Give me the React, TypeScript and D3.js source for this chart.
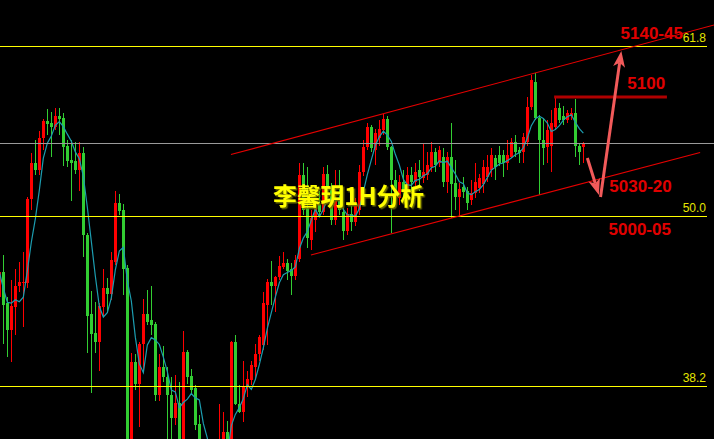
import React from "react";
import * as d3 from "d3";

// 1H bars, oldest first
const opens = [
  4935, 4956, 4930, 4908, 4927, 4944, 4947, 4947, 5016, 5046,
  5040, 5066, 5080, 5079, 5075, 5084, 5083, 5060, 5048, 5047,
  5040, 5054, 4986, 4921, 4906, 4898, 4927, 4943, 4938, 4964,
  5013, 5007, 4959, 4803, 4882, 4864, 4897, 4921, 4916, 4913,
  4855, 4878, 4869, 4855, 4836, 4848, 4813, 4890, 4870, 4860,
  4831, 4805, 4791, 4808, 4780, 4801, 4813, 4824, 4811, 4898,
  4847, 4841, 4861, 4867, 4878, 4888, 4896, 4929, 4948, 4944,
  4952, 4960, 4963, 4958, 4953, 4967, 5036, 5009, 4982, 4999,
  5011, 5005, 5037, 5025, 4999, 5015, 5005, 4990, 5004, 4997,
  5007, 5038, 5059, 5075, 5056, 5066, 5073, 5082, 5059, 5032,
  5017, 5030, 5019, 5036, 5030, 5040, 5033, 5036, 5042, 5055,
  5046, 5051, 5030, 5051, 5029, 5018, 5026, 5023, 5015, 5021,
  5025, 5028, 5034, 5040, 5050, 5052, 5052, 5046, 5051, 5063,
  5056, 5055, 5063, 5092, 5112, 5083, 5065, 5059, 5060, 5075,
  5091, 5084, 5081, 5084, 5087, 5060, 5059,
];
const highs = [
  4958, 4970, 4935, 4949, 4958, 4964, 4972, 5018, 5054, 5065,
  5072, 5082, 5090, 5088, 5091, 5091, 5087, 5065, 5065, 5063,
  5063, 5059, 4988, 4940, 4931, 4930, 4958, 4951, 4972, 5023,
  5020, 5012, 4962, 4889, 4888, 4898, 4934, 4941, 4944, 4915,
  4888, 4895, 4878, 4869, 4871, 4865, 4907, 4892, 4876, 4863,
  4838, 4818, 4813, 4813, 4809, 4847, 4841, 4833, 4899, 4904,
  4863, 4883, 4874, 4883, 4897, 4904, 4939, 4950, 4965, 4953,
  4969, 4972, 4967, 4963, 4970, 5046, 5046, 5042, 5007, 5017,
  5023, 5042, 5044, 5029, 5040, 5040, 5009, 5009, 5015, 5017,
  5044, 5065, 5079, 5077, 5074, 5081, 5086, 5084, 5060, 5040,
  5036, 5040, 5042, 5042, 5046, 5048, 5062, 5055, 5063, 5058,
  5060, 5058, 5055, 5079, 5048, 5029, 5034, 5026, 5032, 5046,
  5037, 5048, 5052, 5058, 5052, 5060, 5056, 5065, 5066, 5069,
  5059, 5070, 5100, 5118, 5120, 5085, 5083, 5081, 5089, 5099,
  5095, 5093, 5089, 5091, 5098, 5062, 5063,
];
const lows = [
  4933, 4897, 4886, 4882, 4904, 4939, 4911, 4943, 5007, 5036,
  5036, 5056, 5069, 5051, 5073, 5069, 5043, 5042, 5014, 5037,
  5023, 4968, 4889, 4856, 4889, 4874, 4919, 4923, 4933, 4962,
  5003, 4937, 4789, 4785, 4859, 4828, 4875, 4912, 4904, 4850,
  4850, 4865, 4813, 4809, 4830, 4805, 4809, 4864, 4855, 4826,
  4801, 4785, 4776, 4772, 4768, 4793, 4809, 4805, 4808, 4846,
  4840, 4832, 4853, 4863, 4867, 4883, 4892, 4896, 4929, 4923,
  4949, 4958, 4949, 4937, 4949, 4964, 5003, 4976, 4974, 4989,
  5002, 5003, 5022, 4995, 4995, 5003, 4982, 4986, 4990, 4994,
  5003, 5035, 5056, 5055, 5044, 5060, 5069, 5056, 4988, 5011,
  5011, 5017, 5015, 5023, 5027, 5023, 5029, 5032, 5038, 5038,
  5042, 5026, 5021, 5000, 5007, 5001, 5017, 5007, 5011, 5017,
  5021, 5021, 5030, 5034, 5032, 5043, 5034, 5040, 5050, 5051,
  5046, 5046, 5060, 5089, 5081, 5019, 5044, 5046, 5038, 5073,
  5079, 5077, 5079, 5081, 5051, 5044, 5046,
];
const closes = [
  4956, 4929, 4908, 4928, 4944, 4948, 4948, 5016, 5046, 5040,
  5066, 5080, 5078, 5075, 5084, 5082, 5059, 5047, 5046, 5040,
  5054, 4986, 4920, 4905, 4898, 4928, 4943, 4938, 4966, 5013,
  5006, 4958, 4801, 4882, 4864, 4897, 4921, 4915, 4912, 4855,
  4878, 4869, 4855, 4836, 4848, 4813, 4890, 4869, 4859, 4830,
  4805, 4793, 4808, 4780, 4801, 4813, 4824, 4811, 4898, 4847,
  4841, 4861, 4868, 4879, 4888, 4902, 4930, 4948, 4944, 4952,
  4961, 4963, 4957, 4953, 4966, 5036, 5007, 4984, 5000, 5011,
  5005, 5037, 5026, 4999, 5015, 5007, 4990, 5004, 4997, 5011,
  5038, 5059, 5075, 5058, 5070, 5074, 5082, 5059, 5032, 5017,
  5030, 5023, 5036, 5030, 5038, 5034, 5038, 5044, 5055, 5044,
  5056, 5030, 5051, 5028, 5018, 5024, 5022, 5013, 5021, 5030,
  5033, 5042, 5042, 5052, 5042, 5046, 5046, 5052, 5063, 5055,
  5054, 5067, 5092, 5114, 5083, 5065, 5058, 5073, 5079, 5091,
  5081, 5081, 5087, 5087, 5060, 5055, 5062,
];

// Fibonacci retracement levels
const fibLabels = ["61.8", "50.0", "38.2"];
const fibPrices = [5142, 5002, 4862];

const maPeriod = 5;

// Trend channel, resistance and projected path, in [bar index, price]
const upperChannel: [number, number][] = [[57.9, 5052.6], [178.7, 5159.3]];
const lowerChannel: [number, number][] = [[77.9, 4969.9], [175.2, 5054.3]];
const resistance: [number, number][] = [[138.7, 5100], [166.9, 5100]];
const downArrow: [number, number][] = [[147.0, 5049.8], [149.9, 5019.3]];
const upArrow: [number, number][] = [[150.3, 5017.7], [155.5, 5137.9]];

const targetLabels = ["5140-45", "5100", "5030-20", "5000-05"];
const targetAnchors: [number, number][] = [
  [155.3, 5147.8],
  [157.0, 5106.6],
  [152.5, 5021.8],
  [152.3, 4986.4],
];

const title = "李馨玥1H分析";

const W = 714;
const H = 439;
const UP = "#ff0000";
const DOWN = "#32cd32";

function arrowParts(x1: number, y1: number, x2: number, y2: number) {
  const len = 16, half = 6, notch = 4;
  const dx = x2 - x1, dy = y2 - y1;
  const L = Math.hypot(dx, dy);
  const ux = dx / L, uy = dy / L;
  const px = -uy, py = ux;
  const bx = x2 - ux * len, by = y2 - uy * len;
  const nx = x2 - ux * (len - notch), ny = y2 - uy * (len - notch);
  const head = `M${x2},${y2}L${bx + px * half},${by + py * half}L${nx},${ny}L${bx - px * half},${by - py * half}Z`;
  return { head, sx: nx, sy: ny };
}

export default function App() {
  const n = closes.length;
  const x = d3.scaleLinear().domain([0, n - 1]).range([-0.67, -0.67 + 4 * (n - 1)]);
  const y = d3.scaleLinear().domain([fibPrices[2], fibPrices[0]]).range([386, 46]);

  const bars = d3.range(n).map((i) => ({ i, o: opens[i], h: highs[i], l: lows[i], c: closes[i] }));
  const ma: [number, number][] = bars.map((b) => {
    const win = closes.slice(Math.max(0, b.i - maPeriod + 1), b.i + 1);
    return [b.i, d3.mean(win) as number];
  });
  const line = d3.line<[number, number]>().x((d) => x(d[0])).y((d) => y(d[1]));

  const lastY = Math.round(y(closes[n - 1])) + 0.5;

  const arrows = [downArrow, upArrow].map((a) => {
    const x1 = x(a[0][0]), y1 = y(a[0][1]), x2 = x(a[1][0]), y2 = y(a[1][1]);
    return { x1, y1, ...arrowParts(x1, y1, x2, y2) };
  });

  return (
    <div style={{ position: "absolute", left: 0, top: 0, width: W, height: H }}>
      <svg width={W} height={H} style={{ display: "block", background: "#000" }}>
        <defs>
          <filter id="titleShadow" x="-5%" y="-20%" width="110%" height="140%">
            <feDropShadow dx={1.5} dy={1.5} stdDeviation={0.4} floodColor="#6e6e00" floodOpacity={1} />
          </filter>
        </defs>
        <rect width={W} height={H} fill="#000" />

        {/* candles */}
        <g shapeRendering="crispEdges">
          {bars.map((b) => {
            const cx = Math.round(x(b.i));
            const col = b.c >= b.o ? UP : DOWN;
            const top = Math.round(y(Math.max(b.o, b.c)));
            const bot = Math.round(y(Math.min(b.o, b.c)));
            const hy = Math.round(y(b.h));
            const ly = Math.round(y(b.l));
            return (
              <g key={b.i}>
                <rect x={cx} y={hy} width={1} height={Math.max(1, ly - hy)} fill={col} />
                <rect x={cx - 1} y={top} width={3} height={Math.max(1, bot - top)} fill={col} />
              </g>
            );
          })}
        </g>

        {/* moving average */}
        <path d={line(ma) || ""} fill="none" stroke="#1c9db0" strokeWidth={1.2} />

        {/* last price line */}
        <line x1={0} x2={W} y1={lastY} y2={lastY} stroke="#9a9a9a" strokeWidth={1} />

        {/* fibonacci levels */}
        {fibPrices.map((p, i) => {
          const ly = Math.round(y(p)) + 0.5;
          return (
            <g key={fibLabels[i]}>
              <line x1={0} x2={707} y1={ly} y2={ly} stroke="#ffff00" strokeWidth={1} />
              <text
                x={706}
                y={ly - 4.5}
                textAnchor="end"
                fontFamily="'Liberation Sans', Arial, sans-serif"
                fontSize={12}
                fill="#e6e600"
              >
                {fibLabels[i]}
              </text>
            </g>
          );
        })}

        {/* channel */}
        {[upperChannel, lowerChannel].map((c, i) => (
          <line
            key={i}
            x1={x(c[0][0])}
            y1={y(c[0][1])}
            x2={x(c[1][0])}
            y2={y(c[1][1])}
            stroke="#e60000"
            strokeWidth={1.1}
          />
        ))}

        {/* resistance */}
        <line
          x1={x(resistance[0][0])}
          x2={x(resistance[1][0])}
          y1={y(resistance[0][1])}
          y2={y(resistance[1][1])}
          stroke="#b00000"
          strokeWidth={3}
        />

        {/* projected path */}
        {arrows.map((a, i) => (
          <g key={i}>
            <line x1={a.x1} y1={a.y1} x2={a.sx} y2={a.sy} stroke="#f25a5a" strokeWidth={3} />
            <path d={a.head} fill="#f25a5a" />
          </g>
        ))}

        {/* targets */}
        {targetLabels.map((t, i) => (
          <text
            key={t}
            x={x(targetAnchors[i][0])}
            y={y(targetAnchors[i][1])}
            fontFamily="'Liberation Sans', Arial, sans-serif"
            fontWeight="bold"
            fontSize={17}
            fill="#e00000"
          >
            {t}
          </text>
        ))}

        {/* title */}
        <text
          x={273}
          y={205}
          fontFamily="'Noto Sans CJK SC', sans-serif"
          fontWeight="bold"
          fontSize={24}
          textLength={151}
          lengthAdjust="spacingAndGlyphs"
          fill="#ffff00"
          filter="url(#titleShadow)"
        >
          {title}
        </text>
      </svg>
    </div>
  );
}
